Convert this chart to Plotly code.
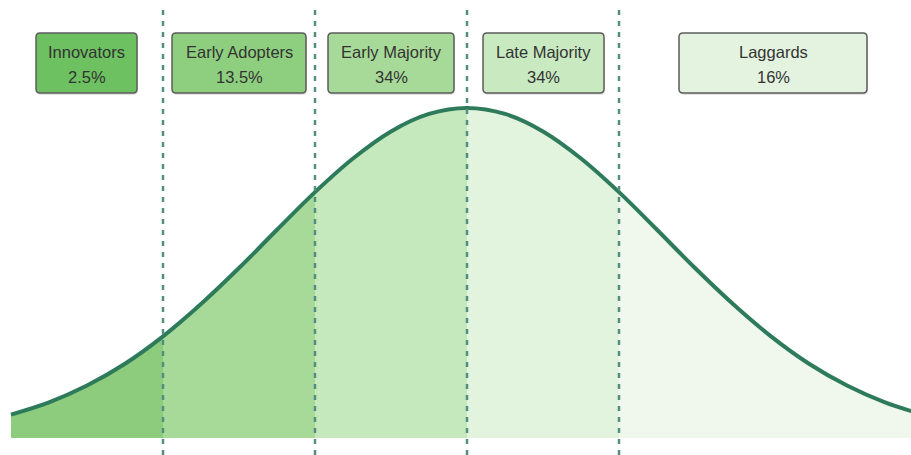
import plotly.graph_objects as go

# ---- data ----
categories = ["Innovators", "Early Adopters", "Early Majority", "Late Majority", "Laggards"]
shares = ["2.5%", "13.5%", "34%", "34%", "16%"]
segment_edges = [-3.0, -2.0, -1.0, 0.0, 1.0, 3.0]   # in standard-deviation units
curve_x = [-3.0, -2.75, -2.5, -2.25, -2.0, -1.75, -1.5, -1.25, -1.0, -0.75, -0.5, -0.25, 0.0,
           0.25, 0.5, 0.75, 1.0, 1.25, 1.5, 1.75, 2.0, 2.25, 2.5, 2.75, 3.0]
curve_y = [7.1, 10.8, 15.9, 22.5, 30.8, 40.6, 51.5, 63.1, 74.5, 84.7, 92.9, 98.2, 100.0,
           98.2, 92.9, 84.7, 74.5, 63.1, 51.5, 40.6, 30.8, 22.5, 15.9, 10.8, 7.1]
divider_x = [-2.0, -1.0, 0.0, 1.0]

# ---- styles ----
fill_colors = ["#8ccc7c", "#a7da99", "#c6e8bd", "#e2f3de", "#f0f8ee"]
box_colors = ["#6dc160", "#8ecf7f", "#a7da98", "#c9eac1", "#e3f3df"]
curve_color = "#2e7b5b"
W, H = 911, 455

fig = go.Figure()

for i in range(len(categories)):
    lo, hi = segment_edges[i], segment_edges[i + 1]
    xs = [x for x in curve_x if lo <= x <= hi]
    ys = [y for x, y in zip(curve_x, curve_y) if lo <= x <= hi]
    fig.add_trace(go.Scatter(x=xs, y=ys, mode="lines", fill="tozeroy",
                             fillcolor=fill_colors[i],
                             line=dict(width=0, color=fill_colors[i], shape="spline"),
                             hoverinfo="skip", showlegend=False))

fig.add_trace(go.Scatter(x=curve_x, y=curve_y, mode="lines",
                         line=dict(color=curve_color, width=4, shape="spline"),
                         hoverinfo="skip", showlegend=False))

shapes = []
for dx in divider_x:
    shapes.append(dict(type="line", xref="x", yref="paper", x0=dx, x1=dx,
                       y0=0, y1=1 - 10 / H, layer="above",
                       line=dict(color="#528f7f", width=2.5, dash="5px,6px")))


def X(px):
    return px / W


def Y(py):
    return 1 - py / H


def rrect(x0, y0, x1, y1, r=4):
    return (f"M {X(x0 + r)},{Y(y0)} L {X(x1 - r)},{Y(y0)} Q {X(x1)},{Y(y0)} {X(x1)},{Y(y0 + r)} "
            f"L {X(x1)},{Y(y1 - r)} Q {X(x1)},{Y(y1)} {X(x1 - r)},{Y(y1)} "
            f"L {X(x0 + r)},{Y(y1)} Q {X(x0)},{Y(y1)} {X(x0)},{Y(y1 - r)} "
            f"L {X(x0)},{Y(y0 + r)} Q {X(x0)},{Y(y0)} {X(x0 + r)},{Y(y0)} Z")


box_px = [(36, 137), (172, 306), (328, 454), (483, 604), (679, 867)]
by0, by1 = 33, 93
annotations = []
font = dict(family="Liberation Sans, Arial, sans-serif", size=16.5, color="#333333")
for (bx0, bx1), col, name, share in zip(box_px, box_colors, categories, shares):
    shapes.append(dict(type="path", xref="paper", yref="paper",
                       path=rrect(bx0 + 1, by0 + 2, bx1 + 1, by1 + 2),
                       fillcolor="rgba(0,0,0,0.10)", line=dict(width=0), layer="above"))
    shapes.append(dict(type="path", xref="paper", yref="paper",
                       path=rrect(bx0, by0, bx1, by1),
                       fillcolor=col, line=dict(color="#5c5c5c", width=1.5), layer="above"))
    cx = (bx0 + bx1) / 2
    annotations.append(dict(xref="paper", yref="paper", x=X(cx), y=Y(52), text=name,
                            showarrow=False, xanchor="center", yanchor="middle", font=font))
    annotations.append(dict(xref="paper", yref="paper", x=X(cx), y=Y(77), text=share,
                            showarrow=False, xanchor="center", yanchor="middle", font=font))

fig.update_layout(
    width=W, height=H,
    margin=dict(l=0, r=0, t=0, b=0),
    paper_bgcolor="white", plot_bgcolor="white",
    xaxis=dict(range=[-467 / 152, 444 / 152], visible=False, fixedrange=True),
    yaxis=dict(range=[-17 / 3.3, 438 / 3.3], visible=False, fixedrange=True),
    shapes=shapes, annotations=annotations, showlegend=False,
)

fig.write_html("out.html")
